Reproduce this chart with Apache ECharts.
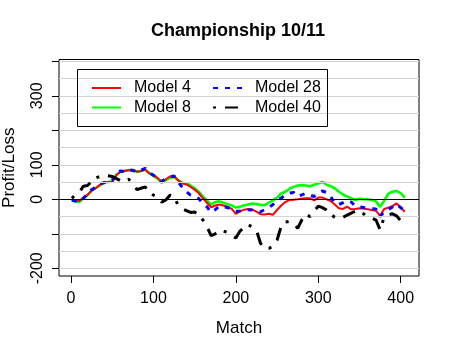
<!DOCTYPE html>
<html><head><meta charset="utf-8">
<script src="https://cdn.jsdelivr.net/npm/echarts@6/dist/echarts.min.js"></script>
<style>html,body{margin:0;padding:0;background:#fff}#c{width:450px;height:350px}</style>
</head><body><div id="c"></div>
<script>
const titleText = 'Championship 10/11';
const xName = 'Match';
const yName = 'Profit/Loss';
const seriesNames = ['Model 4', 'Model 8', 'Model 28', 'Model 40'];

const matches = [1,5,10,15,20,25,30,35,40,45,
  50,55,60,65,70,75,80,85,90,95,
  100,105,110,115,120,125,130,135,140,145,
  150,155,160,165,170,175,180,185,190,195,
  200,205,210,215,220,225,230,235,240,245,
  250,255,260,265,270,275,280,285,290,295,
  300,305,310,315,320,325,330,335,340,345,
  350,355,360,365,370,375,380,385,390,395,
  400,405];

const model4 = [0,-3,-5,5,13,25,32,42,50,50,
  50,70,80,82,84,85,80,82,86,75,
  70,62,50,58,66,67,55,46,43,36,
  28,18,3,-10,-23,-18,-15,-18,-22,-28,
  -42,-35,-30,-28,-30,-36,-43,-44,-42,-45,
  -31,-18,-8,-2,-1,0,2,3,3,-3,
  5,5,0,-5,-15,-26,-28,-21,-29,-28,
  -26,-27,-29,-31,-33,-48,-28,-24,-20,-12,
  -24,-36];

const model8 = [0,-5,-8,3,12,25,33,40,48,50,
  52,72,80,83,85,84,80,82,86,76,
  68,60,48,56,62,65,55,48,46,40,
  32,22,8,-4,-15,-8,-6,-10,-14,-18,
  -24,-22,-17,-15,-12,-14,-16,-17,-10,-3,
  5,17,22,30,36,40,41,40,38,42,
  46,51,42,38,32,22,14,8,3,-2,
  2,0,0,-2,-6,-22,-4,16,22,24,
  18,5];

const model28 = [-2,-5,-8,3,15,28,35,45,48,52,
  55,78,82,80,86,84,78,84,90,78,
  70,60,52,60,65,68,50,35,22,12,
  8,2,-12,-22,-38,-30,-20,-22,-24,-28,
  -35,-34,-31,-30,-31,-33,-36,-30,-24,-15,
  -6,4,12,18,20,8,13,17,12,8,
  18,24,20,8,-12,-15,-10,-4,-8,-20,
  -22,-24,-26,-27,-28,-50,-36,-30,-22,-14,
  -24,-34];

const model40 = [3,12,20,38,40,52,62,66,70,68,
  66,60,54,55,58,45,28,32,36,22,
  12,8,-8,-2,12,6,-17,-28,-33,-38,
  -37,-45,-60,-80,-105,-100,-92,-92,-96,-105,
  -112,-92,-82,-74,-80,-90,-128,-140,-142,-137,
  -118,-78,-66,-64,-70,-84,-60,-44,-50,-34,
  -20,-24,-31,-44,-52,-56,-52,-46,-40,-34,
  -36,-42,-52,-55,-60,-88,-52,-45,-42,-48,
  -62,-70];

const yTicks = [-200,-100,0,100,200,300,400];
const yLabels = [-200,0,100,300];
const xTicks = [0,100,200,300,400];
const gridValues = [-200,-150,-100,-50,0,50,100,150,200,250,300,350,400];

const FONT = "'Liberation Sans', Arial, sans-serif";
const pairs = vals => matches.map((m, i) => [m, vals[i]]);

const legendCommon = {
  orient: 'vertical', top: 80, padding: 0,
  itemWidth: 29, itemHeight: 16, itemGap: 3.5,
  itemStyle: {opacity: 0},
  textStyle: {fontFamily: FONT, fontSize: 16, color: '#000', padding: [0,0,0,8]}
};

const chart = echarts.init(document.getElementById('c'), null, {renderer: 'canvas'});
chart.setOption({
  animation: false,
  backgroundColor: '#ffffff',
  textStyle: {fontFamily: FONT, color: '#000'},
  title: {
    text: titleText, left: 233, top: 17, textAlign: 'center',
    textStyle: {fontFamily: FONT, fontSize: 18, fontWeight: 'bold', color: '#000'}
  },
  grid: {left: 59, top: 59.5, right: 31, bottom: 74, show: true, outerBoundsMode: 'none',
         borderColor: '#000', borderWidth: 1, backgroundColor: 'transparent', containLabel: false},
  xAxis: {
    type: 'value', min: -14.6, max: 422.2,
    name: xName, nameLocation: 'middle', nameGap: 44,
    nameTextStyle: {fontFamily: FONT, fontSize: 17, color: '#000'},
    axisLine: {show: false, onZero: false},
    axisTick: {show: true, length: 7, customValues: xTicks, lineStyle: {color: '#000'}},
    axisLabel: {customValues: xTicks, margin: 15, fontFamily: FONT, fontSize: 16, color: '#000'},
    splitLine: {show: false}
  },
  yAxis: {
    type: 'value', min: -222.3, max: 405.2,
    name: yName, nameLocation: 'middle', nameGap: 41, nameRotate: 90,
    nameTextStyle: {fontFamily: FONT, fontSize: 17, color: '#000'},
    axisLine: {show: false, onZero: false},
    axisTick: {show: true, length: 7, customValues: yTicks, lineStyle: {color: '#000'}},
    axisLabel: {customValues: yLabels, rotate: 90, margin: 13, fontFamily: FONT, fontSize: 16, color: '#000'},
    splitLine: {show: false}
  },
  legend: [
    Object.assign({data: ['Model 4', 'Model 8'], left: 91}, legendCommon),
    Object.assign({data: ['Model 28', 'Model 40'], left: 212}, legendCommon)
  ],
  graphic: [{type: 'rect', left: 77, top: 69, shape: {width: 250, height: 57},
             style: {fill: 'transparent', stroke: '#000', lineWidth: 1}, z: 100}],
  series: [
    {name: 'grid', type: 'line', data: [], silent: true, z: 1,
     markLine: {silent: true, symbol: 'none', label: {show: false}, animation: false,
       lineStyle: {color: '#d3d3d3', width: 1, type: 'solid'},
       data: gridValues.map(v => ({yAxis: v}))}},
    {name: 'zero', type: 'line', data: [], silent: true, z: 1.5,
     markLine: {silent: true, symbol: 'none', label: {show: false}, animation: false,
       lineStyle: {color: '#000', width: 1, type: 'solid'},
       data: [{yAxis: 0}]}},
    {name: seriesNames[0], type: 'line', data: pairs(model4), symbol: 'none', showSymbol: false, z: 3,
     color: '#ff0000', lineStyle: {color: '#ff0000', width: 2, type: 'solid'}},
    {name: seriesNames[1], type: 'line', data: pairs(model8), symbol: 'none', showSymbol: false, z: 2,
     color: '#00ff00', lineStyle: {color: '#00ff00', width: 2.6, type: 'solid'}},
    {name: seriesNames[2], type: 'line', data: pairs(model28), symbol: 'none', showSymbol: false, z: 4,
     color: '#0000ff', lineStyle: {color: '#0000ff', width: 3, type: [5, 7], cap: 'butt'}},
    {name: seriesNames[3], type: 'line', data: pairs(model40), symbol: 'none', showSymbol: false, z: 5,
     color: '#000000', lineStyle: {color: '#000000', width: 3, type: [3, 9, 13, 8], cap: 'butt'}}
  ]
});
</script>
</body></html>
